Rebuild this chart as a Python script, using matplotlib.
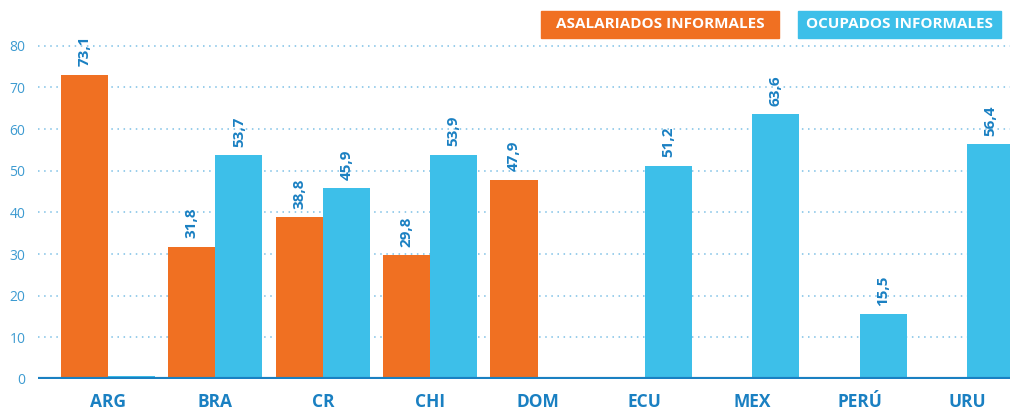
import matplotlib.pyplot as plt
import numpy as np

paises = ["ARG", "BRA", "CR", "CHI", "DOM", "ECU", "MEX", "PERÚ", "URU"]
asalariados = [73.1, 31.8, 38.8, 29.8, 47.9, None, None, None, None]
ocupados = [0.7, 53.7, 45.9, 53.9, None, 51.2, 63.6, 15.5, 56.4]
etiqueta_ocupados = [False, True, True, True, False, True, True, True, True]

naranja = "#f07022"
celeste = "#3dbfe9"
azul = "#1a80c2"

plt.rcParams['font.family'] = ['Open Sans', 'DejaVu Sans']

fig = plt.figure(figsize=(10.10, 4.12), dpi=100)
ax = fig.add_axes([38 / 1010, 33 / 412, 972 / 1010, 339 / 412])

x = np.arange(len(paises))
w = 0.438

def fmt(v):
    return f"{v:.1f}".replace('.', ',')

for i, v in enumerate(asalariados):
    if v is None:
        continue
    ax.bar(x[i] - w / 2, v, w, color=naranja, zorder=3)
    ax.text(x[i] - w / 2, v + 2, fmt(v), rotation=90, ha='center', va='bottom',
            color=azul, fontsize=11, fontweight='bold', clip_on=False)

for i, v in enumerate(ocupados):
    if v is None:
        continue
    ax.bar(x[i] + w / 2, v, w, color=celeste, zorder=3)
    if etiqueta_ocupados[i]:
        ax.text(x[i] + w / 2, v + 2, fmt(v), rotation=90, ha='center', va='bottom',
                color=azul, fontsize=11, fontweight='bold', clip_on=False)

ax.set_xlim(-0.652, 8.40)
ax.set_ylim(0, 81.4)
ax.set_yticks(range(0, 81, 10))
ax.set_xticks(x)
ax.set_xticklabels(paises, fontsize=12.5, fontweight='bold', color=azul)
ax.tick_params(axis='x', length=0, pad=10)
ax.tick_params(axis='y', length=0, pad=9, labelsize=10, labelcolor="#3d9bd1")

for y in range(10, 81, 10):
    ax.axhline(y, color="#7cc0e6", lw=1.1, ls=(0, (1, 3)), zorder=1)
ax.axhline(0, color=azul, lw=3, zorder=4)

for s in ax.spines.values():
    s.set_visible(False)

# leyenda como cajas de color
fig.patches.append(plt.Rectangle((541 / 1010, 1 - 38 / 412), 238 / 1010, 27 / 412,
                                 transform=fig.transFigure, color=naranja))
fig.text(660 / 1010, 1 - 24.5 / 412, "ASALARIADOS INFORMALES", ha='center', va='center',
         color='white', fontsize=11, fontweight='bold')
fig.patches.append(plt.Rectangle((798 / 1010, 1 - 38 / 412), 203 / 1010, 27 / 412,
                                 transform=fig.transFigure, color=celeste))
fig.text(899.5 / 1010, 1 - 24.5 / 412, "OCUPADOS INFORMALES", ha='center', va='center',
         color='white', fontsize=11, fontweight='bold')

fig.savefig("out.png", dpi=100)
